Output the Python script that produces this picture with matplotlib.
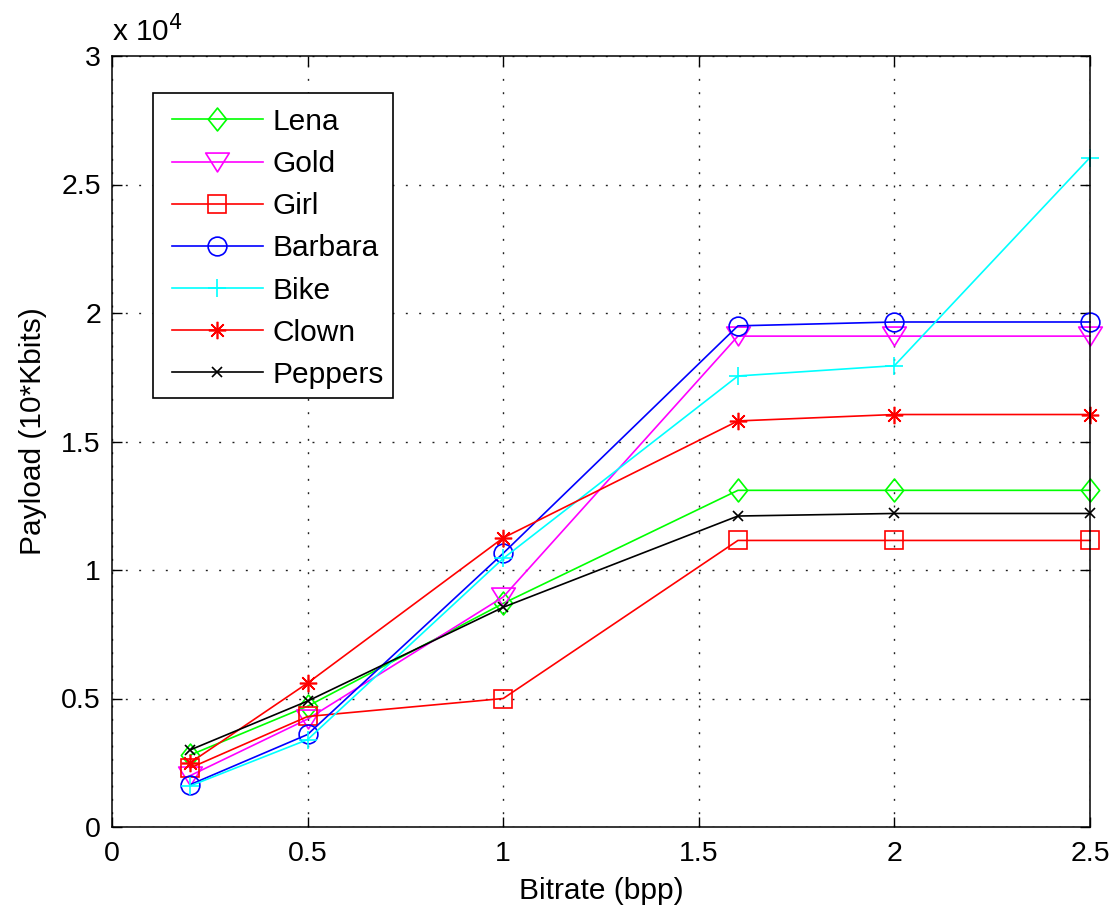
import matplotlib
matplotlib.use("Agg")
import matplotlib.pyplot as plt
from matplotlib.ticker import FuncFormatter, MultipleLocator
from matplotlib.path import Path
from matplotlib.patches import Rectangle

plt.rcParams['font.family'] = ['Liberation Sans', 'DejaVu Sans']

bitrate = [0.2, 0.5, 1.0, 1.6, 2.0, 2.5]
lena    = [2800, 4700, 8700, 13100, 13100, 13100]
gold    = [2000, 4200, 8950, 19100, 19100, 19100]
girl    = [2300, 4300, 5000, 11150, 11150, 11150]
barbara = [1650, 3600, 10650, 19500, 19650, 19650]
bike    = [1600, 3400, 10450, 17550, 17950, 26050]
clown   = [2500, 5600, 11250, 15800, 16050, 16050]
peppers = [3000, 4900, 8550, 12100, 12200, 12200]
names = ["Lena", "Gold", "Girl", "Barbara", "Bike", "Clown", "Peppers"]

# MATLAB-like marker shapes
diamond = Path([(0, 1), (0.8, 0), (0, -1), (-0.8, 0), (0, 1)],
               [Path.MOVETO, Path.LINETO, Path.LINETO, Path.LINETO, Path.CLOSEPOLY])
tri_down = Path([(-1, 0.8), (1, 0.8), (0, -0.8), (-1, 0.8)],
                [Path.MOVETO, Path.LINETO, Path.LINETO, Path.CLOSEPOLY])
asterisk = (8, 2, 0)

styles = [
    ((0, 1, 0), diamond, 16.5),
    ((1, 0, 1), tri_down, 17),
    ((1, 0, 0), 's', 13.5),
    ((0, 0, 1), 'o', 13.5),
    ((0, 1, 1), '+', 13.5),
    ((1, 0, 0), asterisk, 12.5),
    ((0, 0, 0), 'x', 6.5),
]
data = [lena, gold, girl, barbara, bike, clown, peppers]

fig = plt.figure(figsize=(11.15, 9.07), dpi=100)
ax = fig.add_axes([112/1115, 80/907, 978/1115, 771/907])

for name, vals, (col, mk, ms) in zip(names, data, styles):
    ax.plot(bitrate, vals, color=col, marker=mk, markersize=ms,
            markerfacecolor='none', markeredgecolor=col, markeredgewidth=1.2,
            linewidth=1.2, label=name, clip_on=False)

ax.set_xlim(0, 2.5)
ax.set_ylim(0, 30000)
ax.xaxis.set_major_locator(MultipleLocator(0.5))
ax.yaxis.set_major_locator(MultipleLocator(5000))
ax.xaxis.set_major_formatter(FuncFormatter(lambda v, p: f"{v:g}"))
ax.yaxis.set_major_formatter(FuncFormatter(lambda v, p: f"{v/1e4:g}"))
ax.tick_params(direction='in', labelsize=20.5, length=7, width=1.0,
               top=True, right=True)
ax.tick_params(axis='x', pad=10)
ax.tick_params(axis='y', pad=8)
ax.grid(True, color='#202020', linestyle=(0, (1.4, 8.2)), linewidth=1.0)
for s in ax.spines.values():
    s.set_linewidth(1.1)

ax.set_xlabel("Bitrate (bpp)", fontsize=21.5)
ax.set_ylabel("Payload (10*Kbits)", fontsize=21.5)
ax.xaxis.set_label_coords(0.5, -0.065)
ax.yaxis.set_label_coords(-0.066, 0.514)
ax.text(0.0, 0.0195 + 1.0, "x 10$^4$", transform=ax.transAxes, fontsize=21.5,
        ha='left', va='baseline')

# legend frame drawn as a separate rectangle
ax.add_patch(Rectangle((0.0419, 0.5564), 0.2454, 0.3956, transform=ax.transAxes,
                       facecolor='white', edgecolor='black', linewidth=1.2,
                       zorder=4.9))
leg = ax.legend(loc='upper left', bbox_to_anchor=(0.0613, 0.9328), fontsize=21.5,
                frameon=False, handlelength=3.05, labelspacing=0.475,
                borderpad=0.0, handletextpad=0.33, borderaxespad=0)
leg.set_zorder(5)

fig.savefig("out.png", dpi=100)
